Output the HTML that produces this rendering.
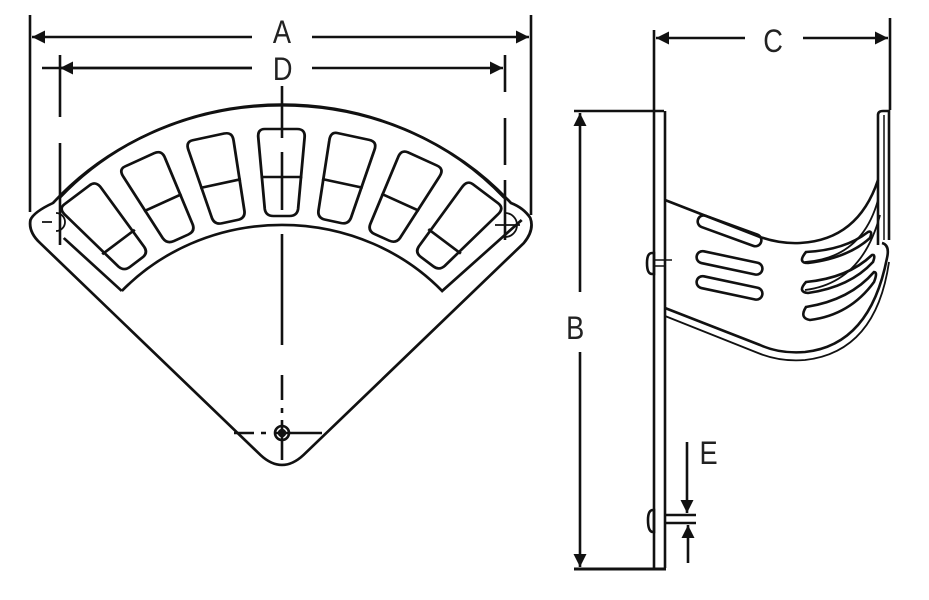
<!DOCTYPE html>
<html><head><meta charset="utf-8"><style>body{margin:0;background:#fff}svg{display:block}text{font-family:"Liberation Sans",sans-serif;font-size:32px;fill:#222}</style></head>
<body>
<svg width="929" height="600" viewBox="0 0 929 600" xmlns="http://www.w3.org/2000/svg">
<defs>
<marker id="ar" viewBox="0 0 10 10" refX="10" refY="5" markerWidth="6" markerHeight="5" orient="auto-start-reverse" markerUnits="strokeWidth"><path d="M0,0 L10,5 L0,10z" fill="#111"/></marker>
<path id="slot" d="M249,129 L279,129 Q287,129 286,138 L280,209 Q279,216 272,216 L257,216 Q250,216 249,209 L243,138 Q242,129 249,129Z"/>
</defs>
<g stroke="#111" fill="none" stroke-width="2.6">
<line x1="30" y1="15" x2="30" y2="212"/>
<line x1="531" y1="15" x2="531" y2="215"/>
<line x1="32" y1="37" x2="252" y2="37" marker-start="url(#ar)"/>
<line x1="312" y1="37" x2="529" y2="37" marker-end="url(#ar)"/>
<line x1="42" y1="68" x2="252" y2="68"/>
<line x1="60" y1="68" x2="252" y2="68" marker-start="url(#ar)"/>
<line x1="312" y1="68" x2="503" y2="68" marker-end="url(#ar)"/>
<line x1="60" y1="55" x2="60" y2="117"/>
<line x1="60" y1="143" x2="60" y2="245"/>
<line x1="505" y1="55" x2="505" y2="92"/>
<line x1="505" y1="118" x2="505" y2="165"/>
<line x1="505" y1="180" x2="505" y2="240"/>
<g transform="matrix(1.075,0,0,1,-2.9,0)">
<path d="M52,203 Q34,212 31,220 Q29,232 40,243 L245,455 Q265,475 285,455 L490,243 Q500,230 496,218 Q490,208 478,203 A281,281 0 0 0 52,203Z"/>
<path d="M58,198 A276,276 0 0 1 472,198"/>
<path d="M116,291 A201,201 0 0 1 414,291 L488,220"/>
<path d="M116,291 L62,238"/>
<use href="#slot"/>
<use href="#slot" transform="rotate(13,265,429)"/>
<use href="#slot" transform="rotate(26,265,429)"/>
<use href="#slot" transform="rotate(39,265,429) translate(0,-2)"/>
<use href="#slot" transform="rotate(-13,265,429)"/>
<use href="#slot" transform="rotate(-26,265,429)"/>
<use href="#slot" transform="rotate(-39,265,429) translate(0,-2)"/>
<line x1="245" y1="177" x2="284" y2="177"/>
<line x1="245" y1="177" x2="284" y2="177" transform="rotate(13,265,429)"/>
<line x1="245" y1="177" x2="284" y2="177" transform="rotate(26,265,429)"/>
<line x1="245" y1="188" x2="284" y2="188" transform="rotate(39,265,429)"/>
<line x1="245" y1="177" x2="284" y2="177" transform="rotate(-13,265,429)"/>
<line x1="245" y1="177" x2="284" y2="177" transform="rotate(-26,265,429)"/>
<line x1="245" y1="188" x2="284" y2="188" transform="rotate(-39,265,429)"/>
</g>
<path d="M282,86 L282,138 M282,152 L282,210 M282,234 L282,345 M282,375 L282,400 M282,408 L282,413 M282,420 L282,460"/>
<path d="M234,433 L254,433 M261,433 L266,433 M274,433 L322,433"/>
<circle cx="282" cy="433" r="7"/>
<circle cx="282" cy="433" r="3" fill="#111"/>
<path d="M42,222 L52,222 M56,213 A9,9 0 1 1 56,231" stroke-width="1.8"/>
<path d="M495,225 L520,225 M505,213 A9,9 0 1 1 505,237" stroke-width="1.8"/>
<line x1="654" y1="30" x2="654" y2="110"/>
<line x1="890" y1="18" x2="890" y2="110"/>
<line x1="656" y1="38" x2="745" y2="38" marker-start="url(#ar)"/>
<line x1="803" y1="38" x2="888" y2="38" marker-end="url(#ar)"/>
<line x1="574" y1="111" x2="664" y2="111"/>
<line x1="574" y1="569" x2="666" y2="569" stroke-width="3"/>
<line x1="580" y1="113" x2="580" y2="292" marker-start="url(#ar)"/>
<line x1="580" y1="352" x2="580" y2="567" marker-end="url(#ar)"/>
<line x1="654" y1="111" x2="654" y2="568"/>
<line x1="665" y1="111" x2="665" y2="568"/>
<path d="M878,245 L878,115 Q878,111 883,111 L889,111 L889,240"/>
<path d="M884,115 L884,240" stroke-width="1.5"/>
<path d="M665,200 L760,237 Q780,244 800,243 Q858,240 878,180"/>
<path d="M665,308 L760,345 Q780,354 805,352 Q870,345 887,258 Q890,245 882,243"/>
<path d="M665,316 L758,353 Q780,362 805,360 Q876,352 889,262" stroke-width="1.8"/>
<path d="M878,200 Q862,258 805,262 M880,215 Q862,283 805,290" stroke-width="1.8"/>
<rect x="696" y="225" width="67" height="12" rx="6" transform="rotate(20,730,231)"/>
<rect x="696" y="257" width="67" height="12" rx="6" transform="rotate(12,730,263)"/>
<rect x="696" y="282" width="67" height="12" rx="6" transform="rotate(12,730,288)"/>
<path d="M806,252 Q845,250 868,232 Q873,230 870,238 Q848,258 808,263 Q797,263 806,252Z"/>
<path d="M806,282 Q848,278 872,255 Q876,254 873,262 Q850,287 808,293 Q797,292 806,282Z"/>
<path d="M806,307 Q850,300 874,272 Q878,272 874,282 Q850,315 810,320 Q799,318 806,307Z"/>
<path d="M652,253 Q647,253 647,263 Q647,274 652,274 L654,274 L654,253Z"/>
<path d="M654,260 L672,260 M654,266 L665,266" stroke-width="1.6"/>
<path d="M653,510 Q648,510 648,520 Q648,532 653,532 L654,532 L654,510Z"/>
<line x1="665" y1="515" x2="696" y2="515"/>
<line x1="665" y1="523" x2="696" y2="523"/>
<line x1="687" y1="442" x2="687" y2="513" marker-end="url(#ar)"/>
<line x1="688" y1="563" x2="688" y2="525" marker-end="url(#ar)"/>
</g>
<g transform="scale(0.85,1)">
<text x="321" y="43">A</text>
<text x="321" y="80">D</text>
<text x="898" y="52">C</text>
<text x="666" y="339">B</text>
<text x="823" y="464">E</text>
</g>
</svg>
</body></html>
